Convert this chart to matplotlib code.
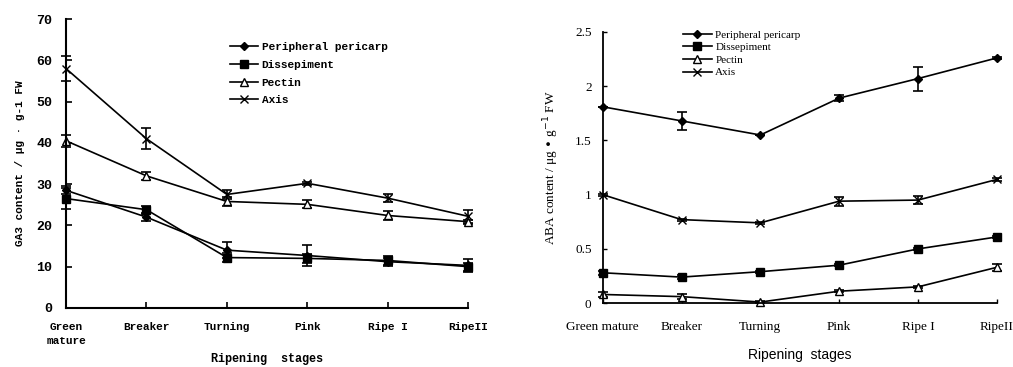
import matplotlib.pyplot as plt
from matplotlib.lines import Line2D

# Adatok
stages_left = ["Green\nmature", "Breaker", "Turning", "Pink", "Ripe I", "RipeII"]
stages_right = ["Green mature", "Breaker", "Turning", "Pink", "Ripe I", "RipeII"]
series_names = ["Peripheral pericarp", "Dissepiment", "Pectin", "Axis"]

# GA3 (bal oldali ábra)
ga3_peri = [28.5, 22.0, 14.0, 12.7, 11.2, 10.3]
ga3_diss = [26.5, 23.8, 12.2, 12.0, 11.5, 10.0]
ga3_pect = [40.5, 32.0, 25.8, 25.1, 22.4, 20.9]
ga3_axis = [58.0, 41.0, 27.5, 30.2, 26.6, 22.2]
ga3_peri_err = [1.0, 1.0, 2.0, 2.5, 1.0, 1.5]
ga3_diss_err = [2.5, 1.0, 1.0, 1.0, 1.0, 1.0]
ga3_pect_err = [1.5, 1.0, 1.0, 1.0, 1.0, 0.5]
ga3_axis_err = [3.0, 2.5, 1.0, 0.3, 1.0, 1.5]

# ABA (jobb oldali ábra)
aba_peri = [1.81, 1.68, 1.55, 1.89, 2.07, 2.26]
aba_diss = [0.28, 0.24, 0.29, 0.35, 0.50, 0.61]
aba_pect = [0.08, 0.06, 0.01, 0.11, 0.15, 0.33]
aba_axis = [1.00, 0.77, 0.74, 0.94, 0.95, 1.14]
aba_peri_err = [0.0, 0.08, 0.0, 0.03, 0.11, 0.01]
aba_diss_err = [0.02, 0.02, 0.01, 0.01, 0.01, 0.01]
aba_pect_err = [0.02, 0.02, 0.01, 0.01, 0.01, 0.03]
aba_axis_err = [0.01, 0.01, 0.01, 0.04, 0.04, 0.01]

markers = ['D', 's', '^', 'x']
msizes = [4.5, 5.5, 5.5, 6]
x = list(range(6))


def rajzol(ax, sorok, hibak):
    kezelok = []
    for vals, errs, m, ms, nev in zip(sorok, hibak, markers, msizes, series_names):
        mfc = 'white' if m == '^' else 'black'
        ax.errorbar(x, vals, yerr=errs, color='black', marker=m, ms=ms, mfc=mfc,
                    mec='black', lw=1.2, elinewidth=1.2, capsize=3.5, capthick=1.2,
                    clip_on=False)
        kezelok.append(Line2D([], [], color='black', marker=m, ms=ms, mfc=mfc,
                              mec='black', lw=1.2, label=nev))
    return kezelok


fig = plt.figure(figsize=(10.13, 3.67), dpi=100)

# Bal oldali ábra
mono = dict(family='Liberation Mono', weight='bold', size=8)
ax1 = fig.add_axes([0.0652, 0.161, 0.397, 0.787])
h1 = rajzol(ax1, [ga3_peri, ga3_diss, ga3_pect, ga3_axis],
            [ga3_peri_err, ga3_diss_err, ga3_pect_err, ga3_axis_err])
ax1.set_xlim(0, 5)
ax1.set_ylim(0, 70)
ax1.set_yticks(range(0, 71, 10))
ax1.set_xticks(x)
ax1.set_xticklabels(stages_left, fontdict=mono, va='top', linespacing=1.5)
for lab in ax1.get_yticklabels():
    lab.set_fontproperties(mono)
    lab.set_fontsize(9.5)
for side in ['top', 'right']:
    ax1.spines[side].set_visible(False)
ax1.spines['left'].set_linewidth(1.5)
ax1.spines['bottom'].set_linewidth(1.5)
ax1.tick_params(direction='in', length=4, width=1.2, pad=10)
ax1.set_ylabel("GA3 content / μg · g-1 FW", fontdict=mono, labelpad=8)
ax1.set_xlabel("Ripening  stages", family='Liberation Mono', weight='bold', size=8.5)
ax1.xaxis.set_label_coords(0.5, -0.155)
ax1.legend(handles=h1, loc='upper left', bbox_to_anchor=(230 / 1013, 1 - 42 / 367),
           bbox_transform=fig.transFigure, frameon=False, prop=mono,
           handlelength=2.5, handletextpad=0.35, labelspacing=0.7,
           borderpad=0, borderaxespad=0)

# Jobb oldali ábra
serif = dict(family='Liberation Serif', size=9.5)
ax2 = fig.add_axes([0.595, 0.174, 0.389, 0.739])
h2 = rajzol(ax2, [aba_peri, aba_diss, aba_pect, aba_axis],
            [aba_peri_err, aba_diss_err, aba_pect_err, aba_axis_err])
ax2.set_xlim(0, 5)
ax2.set_ylim(0, 2.5)
ax2.set_yticks([0, 0.5, 1, 1.5, 2, 2.5])
ax2.set_yticklabels(["0", "0.5", "1", "1.5", "2", "2.5"], fontdict=serif)
ax2.set_xticks(x)
ax2.set_xticklabels(stages_right, fontdict=serif)
for side in ['top', 'right']:
    ax2.spines[side].set_visible(False)
ax2.spines['left'].set_linewidth(1.3)
ax2.spines['bottom'].set_linewidth(1.3)
ax2.tick_params(axis='x', direction='in', length=3, width=1.0, pad=13)
ax2.tick_params(axis='y', direction='in', length=3, width=1.0, pad=8)
ax2.set_ylabel("ABA content / μg • g$^{-1}$ FW", fontdict=serif, labelpad=10)
ax2.set_xlabel("Ripening  stages", family='Liberation Sans', size=10)
ax2.xaxis.set_label_coords(0.5, -0.165)
ax2.legend(handles=h2, loc='upper left', bbox_to_anchor=(683 / 1013, 1 - 30 / 367),
           bbox_transform=fig.transFigure, frameon=False,
           prop=dict(family='Liberation Serif', size=8),
           handlelength=2.6, handletextpad=0.3, labelspacing=0.25,
           borderpad=0, borderaxespad=0)

plt.savefig("out.png", dpi=100)
